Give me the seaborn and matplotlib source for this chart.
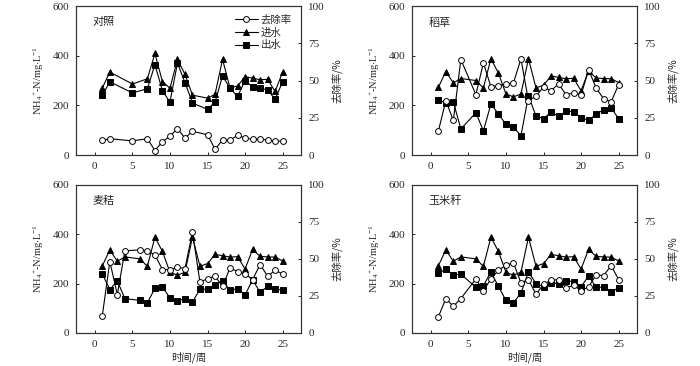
import pandas as pd
import matplotlib.pyplot as plt
import seaborn as sns

# -----------------------------------------------------------
# Data
# -----------------------------------------------------------
weeks_ck = [1, 2, 5, 7, 8, 9, 10, 11, 12, 13, 15, 16, 17, 18, 19, 20, 21, 22, 23, 24, 25]
influent_ck = [270, 334, 286, 307, 409, 296, 269, 385, 325, 241, 229, 244, 385, 270, 278,
               315, 310, 303, 305, 256, 334]
effluent_ck = [240, 295, 250, 267, 364, 259, 213, 370, 292, 209, 184, 213, 318, 269, 236,
               300, 274, 269, 262, 224, 296]
removal_ck = [9.8, 10.9, 9.5, 10.9, 3.0, 8.9, 12.7, 17.7, 11.4, 15.9, 13.6, 3.9, 10.0, 10.0,
              13.2, 11.4, 10.5, 10.7, 10.0, 9.1, 9.5]

weeks = [1, 2, 3, 4, 6, 7, 8, 9, 10, 11, 12, 13, 14, 15, 16, 17, 18, 19, 20, 21, 22, 23, 24, 25]
influent = [272, 336, 290, 308, 300, 270, 388, 330, 246, 234, 246, 388, 270, 281, 318,
            313, 307, 309, 259, 338, 310, 308, 307, 292]

effluent_rice = [222, 209, 214, 105, 170, 97, 205, 166, 123, 112, 78, 239, 157, 146, 173,
                 156, 176, 175, 149, 140, 164, 183, 190, 146]
removal_rice = [15.9, 36.4, 23.2, 64.1, 40.5, 61.8, 45.9, 46.6, 47.5, 48.4, 64.5, 36.4, 39.5,
                45.5, 43.2, 47.7, 40.5, 41.6, 40.2, 57.3, 45.0, 37.7, 35.7, 47.3]

effluent_wheat = [239, 176, 211, 139, 132, 122, 181, 187, 142, 131, 138, 126, 177, 177, 195,
                  212, 172, 180, 154, 215, 165, 189, 178, 173]
removal_wheat = [11.7, 48.2, 25.9, 55.4, 56.1, 55.4, 52.7, 42.8, 42.8, 44.4, 43.5, 68.0, 34.2,
                 36.7, 38.3, 31.5, 43.9, 41.4, 39.9, 36.0, 46.2, 38.3, 42.3, 39.9]

effluent_corn = [243, 257, 236, 238, 185, 192, 246, 189, 132, 122, 162, 247, 200, 188, 203,
                 200, 211, 208, 187, 231, 185, 185, 165, 184]
removal_corn = [10.8, 23.2, 18.0, 23.2, 36.5, 28.4, 36.5, 42.3, 45.7, 47.3, 33.8, 36.0, 26.1,
                32.9, 35.6, 36.0, 30.4, 32.2, 28.6, 31.1, 39.2, 38.7, 45.5, 36.0]

panels = [
    ("对照", weeks_ck, influent_ck, effluent_ck, removal_ck),
    ("稻草", weeks, influent, effluent_rice, removal_rice),
    ("麦秸", weeks, influent, effluent_wheat, removal_wheat),
    ("玉米秆", weeks, influent, effluent_corn, removal_corn),
]

# -----------------------------------------------------------
# Style
# -----------------------------------------------------------
sns.set_style("ticks")
plt.rcParams['font.family'] = ['Liberation Serif', 'Noto Sans CJK SC']
plt.rcParams['axes.unicode_minus'] = False
plt.rcParams['mathtext.fontset'] = 'custom'
plt.rcParams['mathtext.rm'] = 'Liberation Serif'
plt.rcParams['mathtext.it'] = 'Liberation Serif:italic'
cjk = ['Noto Sans CJK SC', 'Liberation Serif']

fig = plt.figure(figsize=(7, 3.66), dpi=100)
positions = [
    [0.1086, 0.5765, 0.322, 0.407],
    [0.5886, 0.5765, 0.322, 0.407],
    [0.1086, 0.0902, 0.322, 0.405],
    [0.5886, 0.0902, 0.322, 0.405],
]

line_kw = dict(color='black', linewidth=0.8, markersize=4.2, markeredgewidth=0.7)

for i, (name, x, inf, eff, rem) in enumerate(panels):
    ax = fig.add_axes(positions[i])
    ax2 = ax.twinx()
    df = pd.DataFrame({'week': x, 'inf': inf, 'eff': eff, 'rem': rem})

    sns.lineplot(data=df, x='week', y='rem', ax=ax2, marker='o', markerfacecolor='white',
                 markeredgecolor='black', label='去除率', legend=False, **line_kw)
    sns.lineplot(data=df, x='week', y='inf', ax=ax, marker='^', markerfacecolor='black',
                 markeredgecolor='black', label='进水', legend=False, **line_kw)
    sns.lineplot(data=df, x='week', y='eff', ax=ax, marker='s', markerfacecolor='black',
                 markeredgecolor='black', label='出水', legend=False, **line_kw)

    ax.set_xlim(-2.5, 27.5)
    ax.set_ylim(0, 600)
    ax2.set_ylim(0, 100)
    ax.set_xticks([0, 5, 10, 15, 20, 25])
    ax.set_yticks([0, 200, 400, 600])
    ax2.set_yticks([0, 25, 50, 75, 100])
    for a in (ax, ax2):
        a.tick_params(direction='in', length=2.5, width=0.7, labelsize=8, pad=5)
        for s in a.spines.values():
            s.set_linewidth(0.8)
            s.set_color('#333333')

    ax.set_xlabel('')
    ax.set_ylabel(r'NH$_4$$^{+}$-N/mg$\cdot$L$^{-1}$', fontsize=7.5, labelpad=5)
    ax2.set_ylabel('去除率/%', fontsize=7.5, family=cjk, labelpad=4)
    ax.text(0.075, 0.89, name, transform=ax.transAxes, fontsize=8, family=cjk,
            ha='left', va='center')

    if i >= 2:
        ax.set_xlabel('时间/周', fontsize=7.5, family=cjk, labelpad=2)

    if i == 0:
        h1, l1 = ax2.get_legend_handles_labels()
        h2, l2 = ax.get_legend_handles_labels()
        ax2.legend(h1 + h2, l1 + l2, loc='upper right', frameon=False,
                   prop={'family': cjk, 'size': 7.5}, handlelength=2.2,
                   handletextpad=0.3, labelspacing=0.25, borderaxespad=0.3,
                   bbox_to_anchor=(0.99, 0.99))

fig.savefig('out.png', dpi=100)
